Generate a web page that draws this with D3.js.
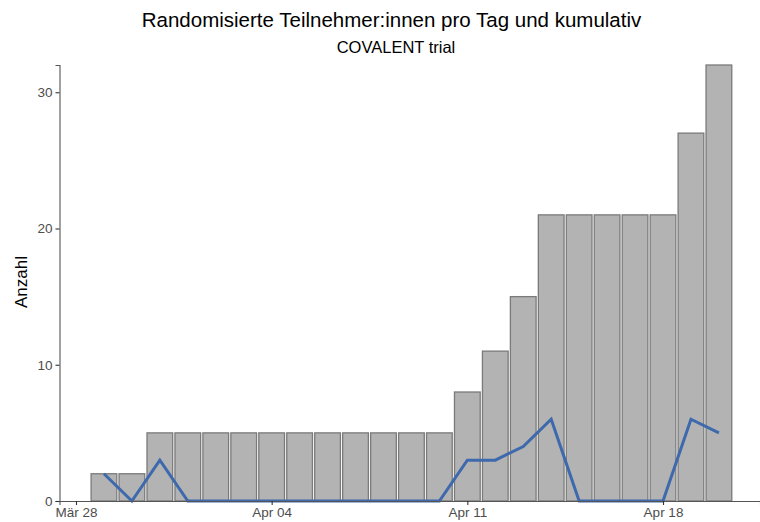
<!DOCTYPE html>
<html>
<head>
<meta charset="utf-8">
<script src="https://cdn.jsdelivr.net/npm/d3@7"></script>
<style>
  body { margin: 0; background: #fff; }
  svg { font-family: "Liberation Sans", Arial, sans-serif; }
</style>
</head>
<body>
<script>
const dates = ['2021-03-29','2021-03-30','2021-03-31','2021-04-01','2021-04-02','2021-04-03',
  '2021-04-04','2021-04-05','2021-04-06','2021-04-07','2021-04-08','2021-04-09','2021-04-10',
  '2021-04-11','2021-04-12','2021-04-13','2021-04-14','2021-04-15','2021-04-16','2021-04-17',
  '2021-04-18','2021-04-19','2021-04-20'];
const cumulative = [2,2,5,5,5,5,5,5,5,5,5,5,5,8,11,15,21,21,21,21,21,27,32];
const daily = [2,0,3,0,0,0,0,0,0,0,0,0,0,3,3,4,6,0,0,0,0,6,5];
const yTicks = [0, 10, 20, 30];
const xTicks = ['2021-03-28','2021-04-04','2021-04-11','2021-04-18'];

const parse = d3.timeParse('%Y-%m-%d');
const rows = dates.map((d, i) => ({ date: parse(d), cum: cumulative[i], day: daily[i] }));

const width = 760, height = 522;
const margin = { top: 65, right: 0, bottom: 21, left: 59.5 };
const dayMs = 864e5;

const x = d3.scaleTime()
  .domain([new Date(parse('2021-03-28').getTime() - 0.59 * dayMs),
           new Date(parse('2021-03-28').getTime() + 24.47 * dayMs)])
  .range([margin.left, width - margin.right]);

const y = d3.scaleLinear()
  .domain([0, 32])
  .range([height - margin.bottom, margin.top]);

const svg = d3.select('body').append('svg')
  .attr('width', width)
  .attr('height', height);

const barW = (x(new Date(dayMs)) - x(new Date(0))) * 0.92;

svg.append('g')
  .selectAll('rect')
  .data(rows)
  .enter()
  .append('rect')
  .attr('x', (d) => x(d.date) - barW / 2)
  .attr('y', (d) => y(d.cum))
  .attr('width', barW)
  .attr('height', (d) => y(0) - y(d.cum))
  .attr('fill', '#b3b3b3')
  .attr('stroke', '#7a7a7a')
  .attr('stroke-width', 1.3);

const line = d3.line()
  .x((d) => x(d.date))
  .y((d) => y(d.day));

svg.append('path')
  .datum(rows)
  .attr('d', line)
  .attr('fill', 'none')
  .attr('stroke', '#3e69ac')
  .attr('stroke-width', 3)
  .attr('stroke-linejoin', 'miter');

const fmt = (d) => {
  const m = d.getMonth() === 2 ? 'Mär' : 'Apr';
  return m + ' ' + d3.timeFormat('%d')(d);
};

const xAxis = d3.axisBottom(x)
  .tickValues(xTicks.map(parse))
  .tickFormat(fmt)
  .tickSizeOuter(0)
  .tickSize(4)
  .tickPadding(2);

const yAxis = d3.axisLeft(y)
  .tickValues(yTicks)
  .tickSizeOuter(0)
  .tickSize(4)
  .tickPadding(3);

const gx = svg.append('g')
  .attr('transform', 'translate(0,' + (height - margin.bottom) + ')')
  .call(xAxis);

const gy = svg.append('g')
  .attr('transform', 'translate(' + margin.left + ',0)')
  .call(yAxis);

[gx, gy].forEach((g) => {
  g.select('.domain').attr('stroke', '#555').attr('stroke-width', 1.1);
  g.selectAll('.tick line').attr('stroke', '#333').attr('stroke-width', 1.1);
  g.selectAll('.tick text')
    .attr('fill', '#4d4d4d')
    .style('font-size', '13.5px')
    .style('font-family', '"Liberation Sans", Arial, sans-serif');
});

svg.append('text')
  .attr('transform', 'translate(27,' + 282 + ') rotate(-90)')
  .text('Anzahl')
  .style('font-size', '17px')
  .style('text-anchor', 'middle');

svg.append('text')
  .attr('x', 391.5)
  .attr('y', 27)
  .text('Randomisierte Teilnehmer:innen pro Tag und kumulativ')
  .style('font-size', '20.5px')
  .style('text-anchor', 'middle');

svg.append('text')
  .attr('x', 396)
  .attr('y', 53)
  .text('COVALENT trial')
  .style('font-size', '16.5px')
  .style('text-anchor', 'middle');
</script>
</body>
</html>
